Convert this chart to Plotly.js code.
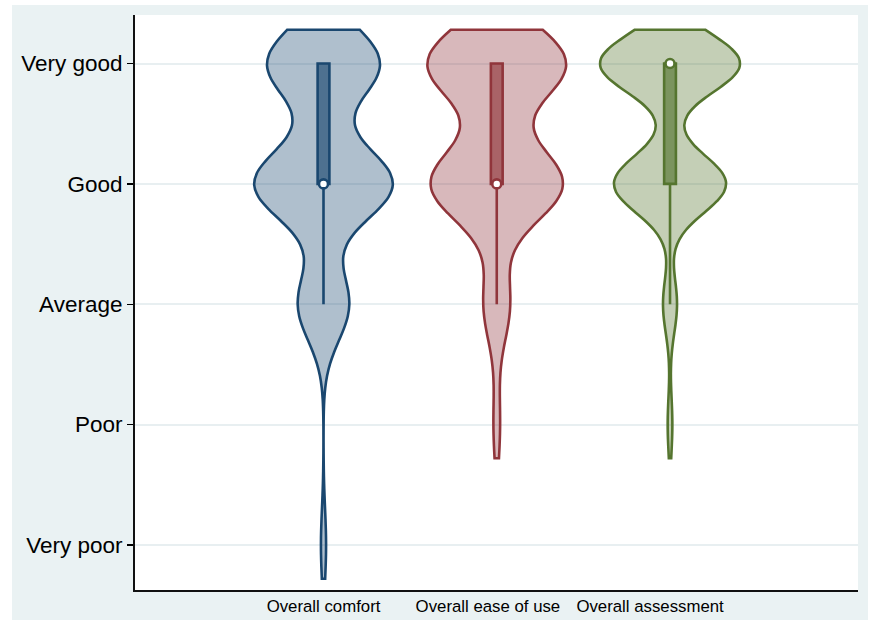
<!DOCTYPE html>
<html>
<head>
<meta charset="utf-8">
<script src="https://cdn.plot.ly/plotly-3.0.1.min.js"></script>
<style>html,body{margin:0;padding:0;background:#fff;}#chart{width:872px;height:620px;}</style>
</head>
<body>
<div id="chart"></div>
<script>
// ---- Data ----
const categories = ['Overall comfort', 'Overall ease of use', 'Overall assessment'];
const levelLabels = ['Very poor', 'Poor', 'Average', 'Good', 'Very good'];
const levelValues = [1, 2, 3, 4, 5];
// number of responses at each level (Very poor .. Very good)
const comfortCounts    = [1, 0, 10, 27, 22];
const easeCounts       = [0, 1, 4, 20, 21];
const assessmentCounts = [0, 1, 3, 24, 30];
const allCounts = [comfortCounts, easeCounts, assessmentCounts];

// ---- Styles ----
const lineColors = ['#1a476f', '#90353b', '#55752f'];
const fillColors = ['rgba(26,71,111,0.35)', 'rgba(144,53,59,0.35)', 'rgba(85,117,47,0.35)'];
const boxFills   = ['rgba(26,71,111,0.65)', 'rgba(144,53,59,0.65)', 'rgba(85,117,47,0.65)'];
const bandwidths = [0.3, 0.31, 0.24];
const spanPad = 0.28;
const labelPos = [1, 1.949, 2.885];

function expand(counts) {
  const out = [];
  counts.forEach((n, i) => { for (let k = 0; k < n; k++) out.push(levelValues[i]); });
  return out;
}
function median(arr) {
  const s = arr.slice().sort((a, b) => a - b);
  const m = s.length / 2;
  return s.length % 2 ? s[Math.floor(m)] : (s[m - 1] + s[m]) / 2;
}

const traces = [];
const medX = [], medY = [];
allCounts.forEach((counts, i) => {
  const vals = expand(counts);
  const lo = Math.min(...vals), hi = Math.max(...vals);
  traces.push({
    type: 'violin',
    name: categories[i],
    x0: i + 1,
    y: vals,
    orientation: 'v',
    width: 0.8,
    scalemode: 'width',
    bandwidth: bandwidths[i],
    spanmode: 'manual',
    span: [lo - spanPad, hi + spanPad],
    points: false,
    fillcolor: fillColors[i],
    line: {color: lineColors[i], width: 2.6},
    box: {visible: true, width: 0.085, fillcolor: boxFills[i], line: {color: lineColors[i], width: 2.6}},
    meanline: {visible: false},
    hoverinfo: 'skip'
  });
  medX.push(i + 1);
  medY.push(median(vals));
});
traces.push({
  type: 'scatter', mode: 'markers', x: medX, y: medY,
  marker: {size: 9, color: 'white', line: {color: lineColors, width: 2.6}},
  hoverinfo: 'skip', showlegend: false
});

const font = 'Liberation Sans, Arial, Helvetica, sans-serif';
const layout = {
  width: 872, height: 620,
  margin: {l: 135, r: 14, t: 15, b: 30},
  paper_bgcolor: '#ffffff',
  plot_bgcolor: '#ffffff',
  showlegend: false,
  font: {family: font, color: '#000'},
  shapes: [
    {type: 'rect', xref: 'paper', yref: 'paper', x0: -0.1701, x1: 1.0138, y0: -0.07, y1: 1.0174,
     fillcolor: '#eaf2f3', line: {width: 0}, layer: 'below'},
    {type: 'rect', xref: 'paper', yref: 'paper', x0: 0, x1: 1, y0: 0, y1: 1,
     fillcolor: '#ffffff', line: {width: 0}, layer: 'below'}
  ],
  xaxis: {
    range: [-0.088, 4.085],
    tickvals: labelPos, ticktext: categories,
    ticks: '', showgrid: false, zeroline: false,
    showline: true, linecolor: '#111', linewidth: 2,
    tickfont: {size: 16.8, family: font, color: '#000'}
  },
  yaxis: {
    range: [0.626, 5.403],
    tickvals: levelValues, ticktext: levelLabels,
    ticks: 'outside', ticklen: 6, tickwidth: 1.5, tickcolor: '#000',
    showline: true, linecolor: '#111', linewidth: 2,
    showgrid: true, gridcolor: '#e8eff1', gridwidth: 2,
    zeroline: false,
    tickfont: {size: 22.5, family: font, color: '#000'}
  }
};

Plotly.newPlot('chart', traces, layout, {displayModeBar: false, staticPlot: true});
</script>
</body>
</html>
